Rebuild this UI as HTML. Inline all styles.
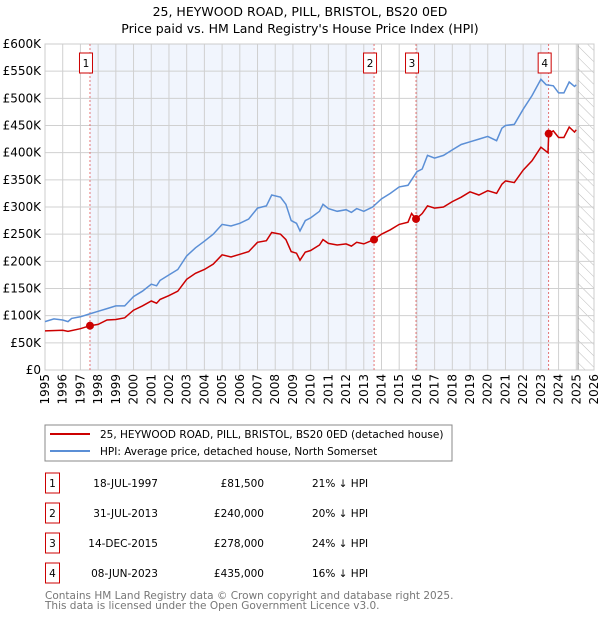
<!DOCTYPE html>
<html><head><meta charset="utf-8"><style>
body{margin:0;background:#fff;font-family:"DejaVu Sans","Liberation Sans",sans-serif;}
svg text{font-family:"DejaVu Sans","Liberation Sans",sans-serif;}
</style></head><body>
<svg id="c" width="600" height="620" xmlns="http://www.w3.org/2000/svg">
<defs><pattern id="hatch" width="8" height="8" patternUnits="userSpaceOnUse" patternTransform="rotate(-45)"><line x1="0" y1="0" x2="0" y2="8" stroke="#bbb" stroke-width="1"/></pattern></defs>
<text x="300" y="16" text-anchor="middle" font-size="12.5">25, HEYWOOD ROAD, PILL, BRISTOL, BS20 0ED</text>
<text x="300" y="33" text-anchor="middle" font-size="12.5">Price paid vs. HM Land Registry's House Price Index (HPI)</text>
<g id="plot"></g>
<rect x="45" y="425" width="407" height="36" fill="#fff" stroke="#888"/>
<line x1="50" y1="434" x2="90" y2="434" stroke="#cc0000" stroke-width="2"/>
<text x="100" y="438" font-size="10.5">25, HEYWOOD ROAD, PILL, BRISTOL, BS20 0ED (detached house)</text>
<line x1="50" y1="451" x2="90" y2="451" stroke="#5b8fd6" stroke-width="2"/>
<text x="100" y="455" font-size="10.5">HPI: Average price, detached house, North Somerset</text>
<g id="table" font-size="10.5"></g>
<text x="45" y="599" font-size="10.5" fill="#777">Contains HM Land Registry data © Crown copyright and database right 2025.</text>
<text x="45" y="609" font-size="10.5" fill="#777">This data is licensed under the Open Government Licence v3.0.</text>
</svg>
<script>
const hpiX=[1995,1995.5,1996,1996.3,1996.5,1997,1997.5,1998,1998.5,1999,1999.5,2000,2000.5,2001,2001.3,2001.5,2002,2002.5,2003,2003.5,2004,2004.5,2005,2005.5,2006,2006.5,2007,2007.5,2007.8,2008.3,2008.6,2008.9,2009.2,2009.4,2009.7,2010,2010.5,2010.7,2011,2011.5,2012,2012.3,2012.6,2013,2013.5,2014,2014.5,2015,2015.5,2016,2016.3,2016.6,2017,2017.5,2018,2018.5,2019,2019.5,2020,2020.5,2020.8,2021,2021.5,2022,2022.5,2023,2023.3,2023.7,2024,2024.3,2024.6,2024.9,2025];
const hpiV=[89,94,92,89,95,98,103,108,113,118,118,135,145,158,155,165,175,185,210,225,237,250,268,265,270,278,298,302,322,318,305,275,270,256,275,280,292,305,297,292,295,290,297,292,300,315,325,337,340,365,370,395,390,395,405,415,420,425,430,422,445,450,452,480,505,535,525,523,510,510,530,522,525];
const ppX=[1995,1996,1996.3,1997,1997.54,1998,1998.5,1999,1999.5,2000,2000.5,2001,2001.3,2001.5,2002,2002.5,2003,2003.5,2004,2004.5,2005,2005.5,2006,2006.5,2007,2007.5,2007.8,2008.3,2008.6,2008.9,2009.2,2009.4,2009.7,2010,2010.5,2010.7,2011,2011.5,2012,2012.3,2012.6,2013,2013.58,2014,2014.5,2015,2015.5,2015.7,2015.95,2016.3,2016.6,2017,2017.5,2018,2018.5,2019,2019.5,2020,2020.5,2020.8,2021,2021.5,2022,2022.5,2023,2023.4,2023.44,2023.7,2024,2024.3,2024.6,2024.9,2025];
const ppV=[72,73,71,76,81.5,84,92,93,96,110,118,127,123,130,137,145,167,178,185,195,212,208,213,218,235,238,253,250,240,218,215,202,217,220,230,240,233,230,232,228,235,232,240,250,258,268,272,288,278,288,302,298,300,310,318,328,322,330,325,342,348,345,368,385,410,400,435,440,428,428,447,438,442];
const saleX=[1997.54,2013.58,2015.95,2023.44];
const saleV=[81.5,240,278,435];
const saleLabels=["1","2","3","4"];
const saleDates=["18-JUL-1997","31-JUL-2013","14-DEC-2015","08-JUN-2023"];
const salePrices=["£81,500","£240,000","£278,000","£435,000"];
const saleHpi=["21% ↓ HPI","20% ↓ HPI","24% ↓ HPI","16% ↓ HPI"];
const yTicks=[0,50,100,150,200,250,300,350,400,450,500,550,600];
const yTickLabels=["£0","£50K","£100K","£150K","£200K","£250K","£300K","£350K","£400K","£450K","£500K","£550K","£600K"];
const xYears=[1995,1996,1997,1998,1999,2000,2001,2002,2003,2004,2005,2006,2007,2008,2009,2010,2011,2012,2013,2014,2015,2016,2017,2018,2019,2020,2021,2022,2023,2024,2025,2026];
const L=45,R=594,T=44,B=370;
const X=y=>L+(y-1995)/31*(R-L);
const Y=v=>B-v/600*(B-T);
const NS="http://www.w3.org/2000/svg";
const g=document.getElementById('plot');
function mk(p,tag,at){const e=document.createElementNS(NS,tag);for(const k in at)e.setAttribute(k,at[k]);p.appendChild(e);return e;}
let e;
e=mk(g,'rect',{x:L,y:T,width:R-L,height:B-T,fill:'#fff'});


[[0,1],[2,3]].forEach(p=>{e=mk(g,'rect',{x:X(saleX[p[0]]),y:T,width:X(saleX[p[1]])-X(saleX[p[0]]),height:B-T,fill:'#eef3fc',opacity:0.8});

});
e=mk(g,'rect',{x:X(2025.1),y:T,width:R-X(2025.1),height:B-T,fill:'url(#hatch)'});


mk(g,'line',{x1:X(2025.1),y1:T,x2:X(2025.1),y2:B,stroke:'#999'});
yTicks.forEach((v,i)=>{e=mk(g,'line',{x1:L,y1:Y(v),x2:R,y2:Y(v),stroke:'#d0d0d0'});


const t=mk(g,'text',{x:L-4,y:Y(v)+4,'text-anchor':'end','font-size':12});t.textContent=yTickLabels[i];

});
xYears.forEach(y=>{e=mk(g,'line',{x1:X(y),y1:T,x2:X(y),y2:B,stroke:'#d0d0d0'});


const t=mk(g,'text',{x:0,y:0,'text-anchor':'end','font-size':12,transform:`translate(${X(y)+4},${B+4}) rotate(-90)`});t.textContent=y;

});
mk(g,'rect',{x:L,y:T,width:R-L,height:B-T,fill:'none',stroke:'#ccc'});
saleX.forEach((s,i)=>{e=mk(g,'line',{x1:X(s),y1:T,x2:X(s),y2:B,stroke:'#e05555','stroke-dasharray':'2,2','stroke-width':0.8});


const bx=mk(g,'rect',{x:X(s)-10.5,y:53,width:13,height:20,fill:'#fff',stroke:'#cc0000'});


const t=mk(g,'text',{x:X(s)-4,y:67,'text-anchor':'middle','font-size':10.5});t.textContent=saleLabels[i];

});
function line(xs,vs,col,name){e=mk(g,'polyline',{points:xs.map((x,i)=>X(x).toFixed(1)+','+Y(vs[i]).toFixed(1)).join(' '),fill:'none',stroke:col,'stroke-width':1.5});

}
line(hpiX,hpiV,'#5b8fd6','hpi-line');
line(ppX,ppV,'#cc0000','price-paid-line');
saleX.forEach((s,i)=>{e=mk(g,'circle',{cx:X(s),cy:Y(saleV[i]),r:4,fill:'#cc0000'});

});
const tb=document.getElementById('table');
saleLabels.forEach((l,i)=>{const y=483+i*30;
let r=mk(tb,'rect',{x:45.5,y:y-10,width:14,height:20,fill:'#fff',stroke:'#cc0000'});


let t=mk(tb,'text',{x:52.5,y:y+4,'text-anchor':'middle'});t.textContent=l;


t=mk(tb,'text',{x:158,y:y+4,'text-anchor':'end'});t.textContent=saleDates[i];


t=mk(tb,'text',{x:264,y:y+4,'text-anchor':'end'});t.textContent=salePrices[i];


t=mk(tb,'text',{x:312,y:y+4});t.textContent=saleHpi[i];

});
</script>
</body></html>
